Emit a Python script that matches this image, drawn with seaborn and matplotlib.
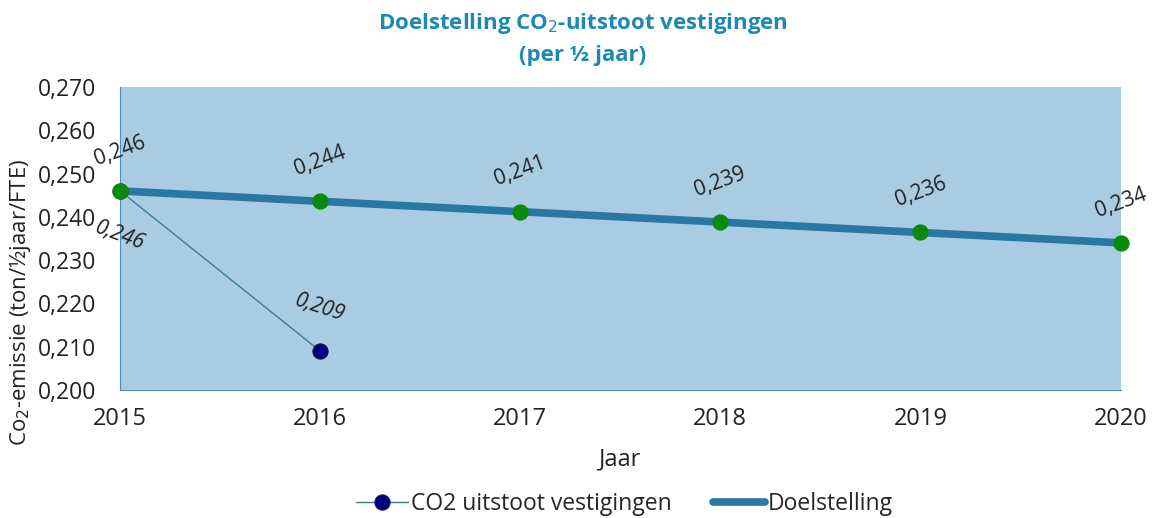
import numpy as np
import pandas as pd
import matplotlib
matplotlib.use('Agg')
import matplotlib.pyplot as plt
import seaborn as sns

# data
jaren = [2015, 2016, 2017, 2018, 2019, 2020]
doel = [0.246, 0.2436, 0.2412, 0.2388, 0.2364, 0.234]
doel_labels = ['0,246', '0,244', '0,241', '0,239', '0,236', '0,234']
actueel_jaren = [2015, 2016]
actueel = [0.246, 0.209]
actueel_labels = ['0,246', '0,209']
yticks = [0.200, 0.210, 0.220, 0.230, 0.240, 0.250, 0.260, 0.270]

sns.set_style('white')
plt.rcParams['font.family'] = ['Open Sans', 'DejaVu Sans']

df_doel = pd.DataFrame({'jaar': jaren, 'waarde': doel})
df_act = pd.DataFrame({'jaar': actueel_jaren, 'waarde': actueel})

fig = plt.figure(figsize=(11.66, 5.18), dpi=100)
ax = fig.add_axes([0.103, 0.247, 0.858, 0.585])
ax.set_facecolor('#A9CCE3')

# CO2 actual line (thin) + target line (thick)
sns.lineplot(data=df_act, x='jaar', y='waarde', ax=ax, color='#3F7A9C', linewidth=1,
             marker='o', markersize=11, markerfacecolor='#000080', markeredgecolor='#1A1A50',
             label='CO2 uitstoot vestigingen', zorder=3)
sns.lineplot(data=df_doel, x='jaar', y='waarde', ax=ax, color='#2878A3', linewidth=5.5,
             label='Doelstelling', zorder=2)
ax.scatter(jaren, doel, s=115, color='#0A8A0A', zorder=4, clip_on=False)
ax.scatter(actueel_jaren[:1], actueel[:1], s=115, color='#0A8A0A', zorder=5, clip_on=False)

# data labels
for x, y, t in zip(jaren, doel, doel_labels):
    ax.annotate(t, (x, y), xytext=(0, 29), textcoords='offset points', ha='center', va='center',
                rotation=20, fontsize=15, color='#222222')
ax.annotate(actueel_labels[0], (actueel_jaren[0], actueel[0]), xytext=(0, -32), textcoords='offset points',
            ha='center', va='center', rotation=-20, fontsize=15, color='#222222', style='italic')
ax.annotate(actueel_labels[1], (actueel_jaren[1], actueel[1]), xytext=(0, 31), textcoords='offset points',
            ha='center', va='center', rotation=-18, fontsize=15, color='#222222', style='italic')

ax.set_xlim(2015, 2020)
ax.set_ylim(0.200, 0.270)
ax.set_xticks(jaren)
ax.set_xticklabels([str(j) for j in jaren], fontsize=17)
ax.set_yticks(yticks)
ax.set_yticklabels([('%.3f' % v).replace('.', ',') for v in yticks], fontsize=16.5)
ax.tick_params(axis='x', direction='out', length=6, width=1, color='#4A8FC0', labelcolor='#222222', pad=6)
ax.tick_params(axis='y', direction='out', length=5, width=1, color='#4A8FC0', labelcolor='#222222', pad=12)
for s in ['top', 'right']:
    ax.spines[s].set_visible(False)
for s in ['left', 'bottom']:
    ax.spines[s].set_color('#4A8FC0')

ax.set_xlabel('Jaar', fontsize=17, color='#222222')
ax.xaxis.set_label_coords(0.5, -0.19)
ax.set_ylabel('Co$_2$-emissie (ton/½jaar/FTE)', fontsize=16, color='#222222')
ax.yaxis.set_label_coords(-0.087, 0.29)

fig.text(0.5, 0.955, 'Doelstelling CO$_2$-uitstoot vestigingen', ha='center', va='center',
         fontsize=16, fontweight='bold', color='#1E88B4')
fig.text(0.5, 0.892, '(per ½ jaar)', ha='center', va='center',
         fontsize=16, fontweight='bold', color='#1E88B4')

leg = ax.legend(loc='center', bbox_to_anchor=(0.504, -0.375), ncol=2, frameon=False,
                fontsize=16.5, handlelength=2.3, columnspacing=1.8, handletextpad=0.1)

fig.savefig('out.png', dpi=100)
